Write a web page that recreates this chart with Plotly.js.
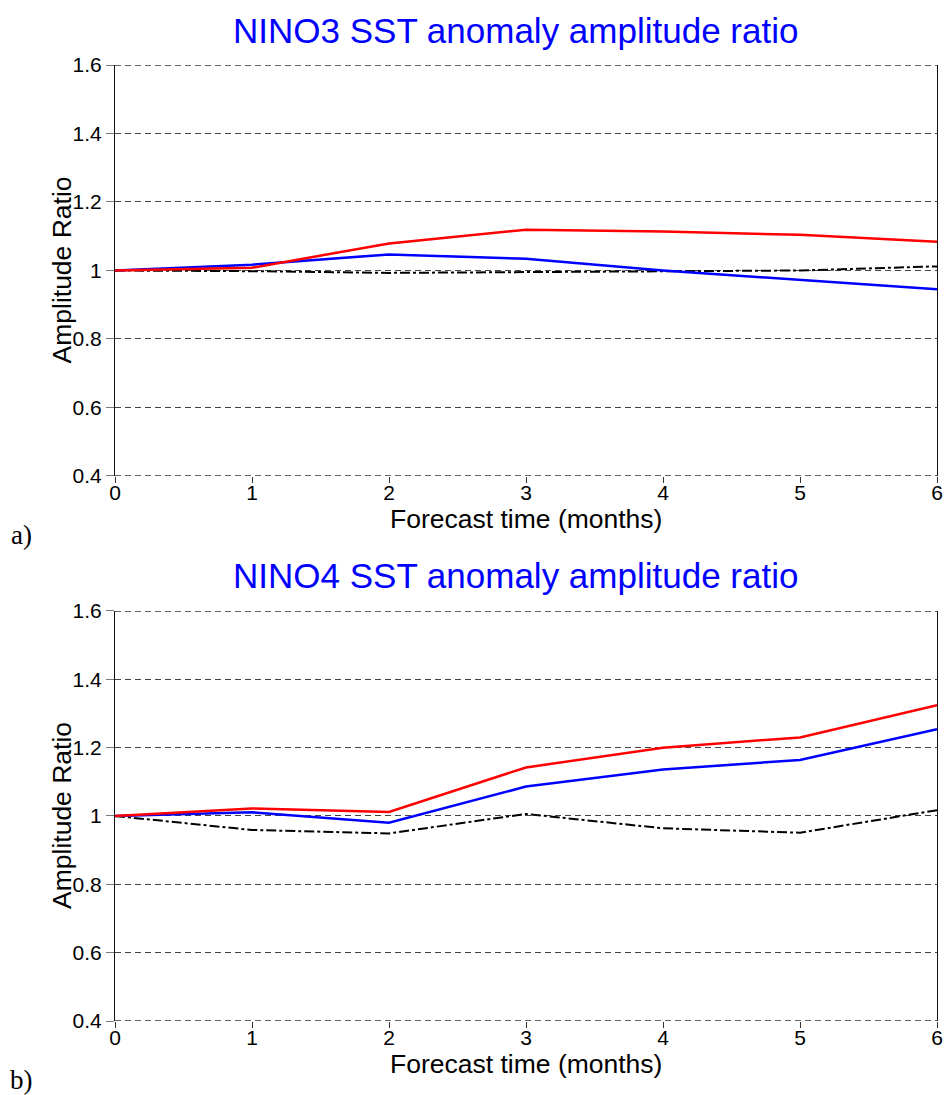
<!DOCTYPE html>
<html>
<head>
<meta charset="utf-8">
<script src="https://cdn.plot.ly/plotly-3.0.1.min.js"></script>
<style>html,body{margin:0;padding:0;background:#fff;}#chart{width:945px;height:1095px;}</style>
</head>
<body>
<div id="chart"></div>
<script>
const months = [0, 1, 2, 3, 4, 5, 6];
const nino3Red   = [1.0, 1.008, 1.079, 1.119, 1.114, 1.104, 1.084];
const nino3Blue  = [1.0, 1.017, 1.047, 1.034, 1.0, 0.973, 0.945];
const nino3Black = [1.0, 0.998, 0.993, 0.996, 0.997, 1.0, 1.012];
const nino4Red   = [1.0, 1.022, 1.012, 1.142, 1.2, 1.23, 1.324];
const nino4Blue  = [1.0, 1.011, 0.98, 1.086, 1.136, 1.164, 1.254];
const nino4Black = [1.0, 0.959, 0.949, 1.006, 0.964, 0.951, 1.017];
const yTicks = [0.4, 0.6, 0.8, 1, 1.2, 1.4, 1.6];
const yTickText = ['0.4', '0.6', '0.8', '1', '1.2', '1.4', '1.6'];
const titles = ['NINO3 SST anomaly amplitude ratio', 'NINO4 SST anomaly amplitude ratio'];
const xTitle = 'Forecast time (months)';
const yTitle = 'Amplitude Ratio';
const panelLabels = ['a)', 'b)'];

const F = 'Liberation Sans, Arial, sans-serif';
function line(y, color, xa, ya, dash, w) {
  return {x: months, y: y, type: 'scatter', mode: 'lines', xaxis: xa, yaxis: ya,
    line: {color: color, width: w, dash: dash}, showlegend: false, hoverinfo: 'skip'};
}
const traces = [
  line(nino3Black, '#000', 'x', 'y', '10px,3px,3px,3px', 2),
  line(nino3Blue, '#0000ff', 'x', 'y', 'solid', 2.5),
  line(nino3Red, '#ff0000', 'x', 'y', 'solid', 2.5),
  line(nino4Black, '#000', 'x2', 'y2', '10px,3px,3px,3px', 2),
  line(nino4Blue, '#0000ff', 'x2', 'y2', 'solid', 2.5),
  line(nino4Red, '#ff0000', 'x2', 'y2', 'solid', 2.5)
];
function xax(anchor) {
  return {anchor: anchor, range: [0, 6], tickvals: months, ticks: 'outside', ticklen: 6,
    ticklabelstandoff: -8,
    tickcolor: '#333', tickfont: {family: F, size: 21, color: '#000'}, showgrid: false,
    zeroline: false, showline: false, fixedrange: true};
}
function yax(anchor, domain) {
  return {anchor: anchor, domain: domain, range: [0.4, 1.6], tickvals: yTicks, ticktext: yTickText,
    ticks: 'outside', ticklen: 8, tickcolor: '#777', tickfont: {family: F, size: 21, color: '#000'},
    showgrid: true, gridcolor: '#444', gridwidth: 1, griddash: '6px,4px', zeroline: false,
    showline: true, linecolor: '#111', linewidth: 1, mirror: true};
}
const ann = [];
const shapes = [];
const tops = [1, 0.4289];
const bots = [0.5701, 0];
const yrefs = ['y', 'y2'];
const xrefs = ['x domain', 'x2 domain'];
for (let i = 0; i < 2; i++) {
  [yTicks[0], yTicks[yTicks.length - 1]].forEach(v => {
    shapes.push({type: 'line', xref: xrefs[i], yref: yrefs[i], x0: 0, x1: 1, y0: v, y1: v,
      line: {color: '#333', width: 1.5, dash: '6px,4px'}});
  });
  ann.push({text: titles[i], xref: 'paper', yref: 'paper', x: 0.487, y: tops[i], yshift: 35,
    showarrow: false, xanchor: 'center', yanchor: 'middle', font: {family: F, size: 35, color: '#0000ff'}});
  ann.push({text: xTitle, xref: 'paper', yref: 'paper', x: 0.5, y: bots[i], yshift: -43,
    showarrow: false, xanchor: 'center', yanchor: 'middle', font: {family: F, size: 26.5, color: '#000'}});
  ann.push({text: yTitle, xref: 'paper', yref: 'paper', x: 0, xshift: -53, y: (tops[i] + bots[i]) / 2,
    yshift: 0, textangle: -90, showarrow: false, xanchor: 'center', yanchor: 'middle',
    font: {family: F, size: 26.5, color: '#000'}});
  ann.push({text: panelLabels[i], xref: 'paper', yref: 'paper', x: 0, xshift: -94, y: bots[i], yshift: -59,
    showarrow: false, xanchor: 'center', yanchor: 'middle',
    font: {family: 'Liberation Serif, Times New Roman, serif', size: 27, color: '#000'}});
}
const layout = {
  width: 945, height: 1095,
  margin: {l: 115, r: 8, t: 65, b: 74},
  paper_bgcolor: '#fff', plot_bgcolor: '#fff',
  xaxis: xax('y'), yaxis: yax('x', [0.5701, 1]),
  xaxis2: xax('y2'), yaxis2: yax('x2', [0, 0.4289]),
  annotations: ann, shapes: shapes,
  showlegend: false
};
Plotly.newPlot('chart', traces, layout, {staticPlot: true});
</script>
</body>
</html>
